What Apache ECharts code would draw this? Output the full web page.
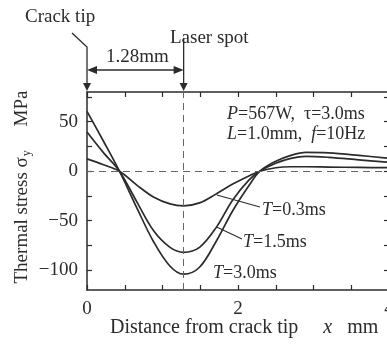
<!DOCTYPE html>
<html>
<head>
<meta charset="utf-8">
<script src="https://cdn.jsdelivr.net/npm/echarts@6/dist/echarts.min.js"></script>
<style>
  html, body { margin: 0; padding: 0; background: #fff; overflow: hidden; }
  #chart { width: 387px; height: 345px; }
</style>
</head>
<body>
<div id="chart"></div>
<script>
// distance from crack tip (mm)
const distance = [0, 0.22, 0.43, 0.66, 0.88, 1.1, 1.28, 1.49, 1.71, 1.93, 2.15, 2.29, 2.5, 2.7, 2.9, 3.2, 3.6, 4.0]
// thermal stress sigma_y (MPa)
const stressT03 = [12.5, 6.5, 0, -14, -26, -33, -35, -32, -23, -13, -4.5, 0, 3.5, 4.5, 4.5, 4.2, 3.8, 3.5]
const stressT15 = [39.5, 18.5, 0, -31, -60, -77, -82, -77, -57, -29, -8.5, 0, 8, 13, 15, 14, 11.5, 9]
const stressT30 = [60.5, 30, 0, -37, -71, -96, -104, -97, -71, -40, -14, 0, 10, 16, 19, 18.5, 16, 13]

const xTickValues = [0, 0.5, 1, 1.5, 2, 2.5, 3, 3.5, 4]
const xLabelValues = [0, 2, 4]
const yTickValues = [-100, -75, -50, -25, 0, 25, 50, 75]
const yLabelValues = [-100, -50, 0, 50]

const crackTipX = 0
const laserSpotX = 1.28
// where the label leader lines touch the curves
const leaderT03 = [1.72, -24]
const leaderT15 = [1.71, -56]

const ink = '#2b2b2b'
const serif = "'Liberation Serif', 'DejaVu Serif', serif"

const chart = echarts.init(document.getElementById('chart'))

const zip = (xs, ys) => xs.map((x, i) => [x, ys[i]])

const lineSeries = (name, values) => ({
  name,
  type: 'line',
  smooth: 0.35,
  showSymbol: false,
  data: zip(distance, values),
  lineStyle: { color: ink, width: 1.7 },
  itemStyle: { color: ink },
  silent: true
})

const frameAxis = {
  axisLine: { show: true, onZero: false, lineStyle: { color: ink, width: 1.5 } },
  splitLine: { show: false }
}

const option = {
  backgroundColor: '#fff',
  animation: false,
  grid: { left: 87, top: 92, width: 302, height: 198, outerBoundsMode: 'none', containLabel: false },
  xAxis: [
    {
      ...frameAxis,
      type: 'value', min: 0, max: 4, interval: 0.5,
      position: 'bottom',
      axisTick: { inside: true, length: 5, lineStyle: { color: ink, width: 1.2 }, customValues: xTickValues },
      axisLabel: { customValues: xLabelValues, margin: 10, color: ink, fontFamily: serif, fontSize: 19 }
    },
    {
      ...frameAxis,
      type: 'value', min: 0, max: 4, interval: 0.5,
      position: 'top',
      axisTick: { inside: true, length: 5, lineStyle: { color: ink, width: 1.2 }, customValues: xTickValues },
      axisLabel: { show: false }
    }
  ],
  yAxis: [
    {
      ...frameAxis,
      type: 'value', min: -120, max: 80,
      position: 'left',
      axisTick: { inside: true, length: 5, lineStyle: { color: ink, width: 1.2 }, customValues: yTickValues },
      axisLabel: {
        customValues: yLabelValues, margin: 9, color: ink, fontFamily: serif, fontSize: 19,
        formatter: v => String(v).replace('-', '\u2212')
      }
    },
    {
      ...frameAxis,
      type: 'value', min: -120, max: 80,
      position: 'right',
      axisTick: { inside: true, length: 5, lineStyle: { color: ink, width: 1.2 }, customValues: yTickValues },
      axisLabel: { show: false }
    }
  ],
  series: [
    {
      ...lineSeries('T=0.3ms', stressT03),
      markLine: {
        silent: true,
        symbol: 'none',
        label: { show: false },
        lineStyle: { color: '#666', width: 1, type: [7, 5] },
        data: [{ xAxis: laserSpotX }, { yAxis: 0 }]
      }
    },
    lineSeries('T=1.5ms', stressT15),
    lineSeries('T=3.0ms', stressT30)
  ]
}

chart.setOption(option)

// annotations placed from axis coordinates
const px = (x, y) => chart.convertToPixel({ gridIndex: 0 }, [x, y])
const tipX = px(crackTipX, 0)[0]
const spotX = px(laserSpotX, 0)[0]
const plotTop = 92
const arrowY = 70

const txt = (text, x, y, extra) => ({
  type: 'text', silent: true,
  style: Object.assign({ text, x, y, fill: ink, font: '19px ' + serif }, extra || {})
})
const seg = (points, w) => ({
  type: 'polyline', silent: true,
  shape: { points },
  style: { stroke: ink, lineWidth: w || 1.3, fill: null }
})
const tri = points => ({
  type: 'polygon', silent: true,
  shape: { points },
  style: { fill: ink }
})

const p03 = px(leaderT03[0], leaderT03[1])
const p15 = px(leaderT15[0], leaderT15[1])
const italicRich = {
  n: { fontFamily: serif, fontSize: 18, fill: ink },
  i: { fontFamily: serif, fontSize: 18, fontStyle: 'italic', fill: ink }
}

chart.setOption({
  graphic: [
    // crack tip marker
    txt('Crack tip', 25, 8),
    seg([[tipX - 15, 33], [tipX, 47], [tipX, plotTop - 8]]),
    tri([[tipX - 4, plotTop - 9], [tipX + 4, plotTop - 9], [tipX, plotTop - 1]]),
    // laser spot marker
    txt('Laser spot', 170, 29),
    seg([[spotX, 38], [spotX, plotTop - 8]]),
    tri([[spotX - 4, plotTop - 9], [spotX + 4, plotTop - 9], [spotX, plotTop - 1]]),
    // 1.28mm dimension
    seg([[tipX + 8, arrowY], [spotX - 8, arrowY]]),
    tri([[tipX, arrowY], [tipX + 10, arrowY - 4], [tipX + 10, arrowY + 4]]),
    tri([[spotX, arrowY], [spotX - 10, arrowY - 4], [spotX - 10, arrowY + 4]]),
    txt('1.28mm', (tipX + spotX) / 2 + 2, 48, { align: 'center' }),
    // conditions
    {
      type: 'text', silent: true,
      style: {
        x: 227, y: 104,
        text: '{i|P}{n|=567W,  τ=3.0ms}\n{i|L}{n|=1.0mm,  }{i|f}{n|=10Hz}',
        rich: italicRich, lineHeight: 20
      }
    },
    // curve labels
    seg([[p03[0], p03[1]], [260, 207]], 1.1),
    {
      type: 'text', silent: true,
      style: { x: 262, y: 201, text: '{i|T}{n|=0.3ms}', rich: italicRich }
    },
    seg([[p15[0], p15[1]], [242, 239]], 1.1),
    {
      type: 'text', silent: true,
      style: { x: 243, y: 233, text: '{i|T}{n|=1.5ms}', rich: italicRich }
    },
    {
      type: 'text', silent: true,
      style: { x: 213, y: 264, text: '{i|T}{n|=3.0ms}', rich: italicRich }
    },
    // axis titles
    {
      type: 'text', silent: true,
      x: 22, y: 187, rotation: Math.PI / 2,
      style: {
        x: 0, y: 0, align: 'center', verticalAlign: 'middle',
        text: '{n|Thermal stress σ}{s|y}{n|     MPa}',
        rich: {
          n: { fontFamily: serif, fontSize: 19, fill: ink },
          s: { fontFamily: serif, fontSize: 12, fill: ink, padding: [9, 0, 0, 1] }
        }
      }
    },
    {
      type: 'text', silent: true,
      style: {
        x: 110, y: 318,
        text: '{n|Distance from crack tip}{n|     }{i|x}{n|   mm}',
        rich: {
          n: { fontFamily: serif, fontSize: 20, fill: ink },
          i: { fontFamily: serif, fontSize: 20, fontStyle: 'italic', fill: ink }
        }
      }
    }
  ]
})
</script>
</body>
</html>
